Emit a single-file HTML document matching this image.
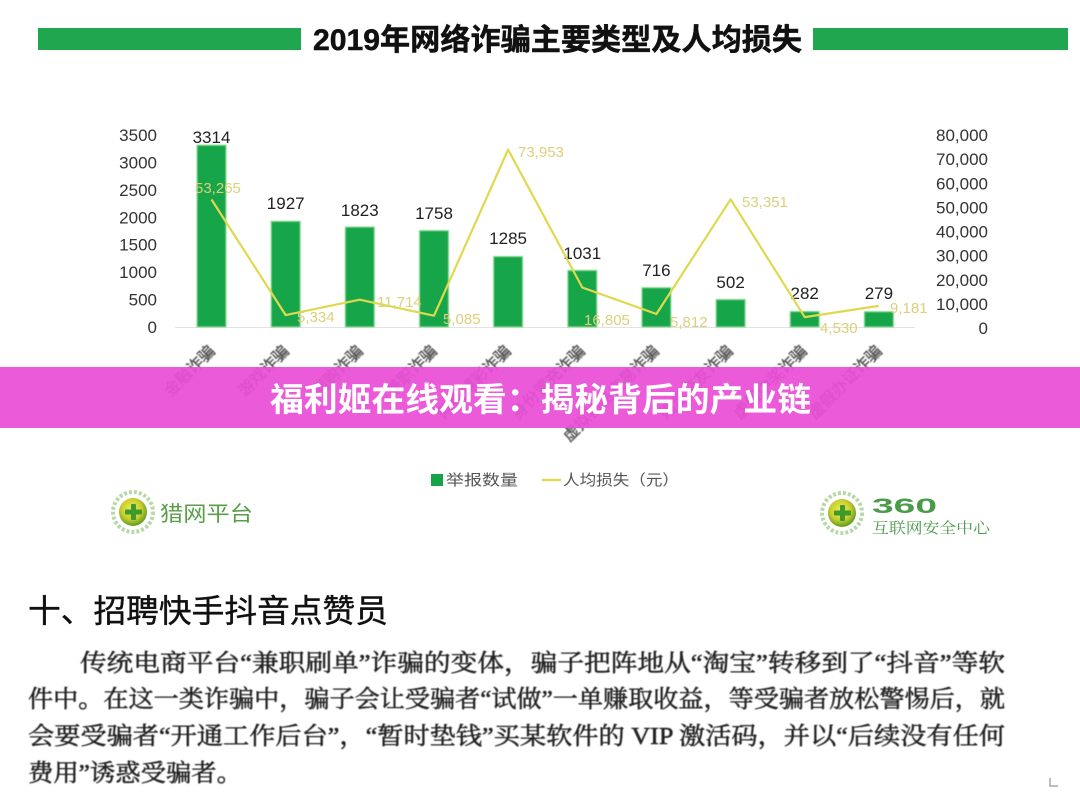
<!DOCTYPE html>
<html><head><meta charset="utf-8">
<style>
html,body{margin:0;padding:0;background:#fff;}
svg{display:block;}
</style></head>
<body>
<svg width="1080" height="795" viewBox="0 0 1080 795" xmlns="http://www.w3.org/2000/svg">
<defs>
<radialGradient id="lg" cx="45%" cy="40%" r="60%">
<stop offset="0" stop-color="#f2ec5a"/><stop offset="0.6" stop-color="#c9cf2e"/><stop offset="1" stop-color="#5f9a22"/>
</radialGradient>
<filter id="bl" x="-5%" y="-5%" width="110%" height="110%"><feGaussianBlur stdDeviation="0.6"/></filter>
</defs>
<rect width="1080" height="795" fill="#fff"/>

<!-- Title -->
<rect x="38" y="28" width="263" height="22" fill="#1fa64f"/>
<rect x="813" y="28" width="255" height="22" fill="#1fa64f"/>
<text x="313" y="50" font-family="Liberation Sans, Noto Sans CJK SC, sans-serif" font-size="30" font-weight="bold" fill="#111" stroke="#111" stroke-width="0.5" textLength="489" lengthAdjust="spacingAndGlyphs">2019年网络诈骗主要类型及人均损失</text>

<!-- baseline -->
<line x1="175" y1="327.5" x2="915" y2="327.5" stroke="#e2e2e2" stroke-width="1"/>

<!-- left axis -->
<g font-family="Liberation Sans, sans-serif" font-size="17" fill="#333" text-anchor="end">
<text x="157" y="333">0</text>
<text x="157" y="305.6">500</text>
<text x="157" y="278.1">1000</text>
<text x="157" y="250.7">1500</text>
<text x="157" y="223.3">2000</text>
<text x="157" y="195.9">2500</text>
<text x="157" y="168.4">3000</text>
<text x="157" y="141">3500</text>
</g>

<!-- right axis -->
<g font-family="Liberation Sans, sans-serif" font-size="17" fill="#333" text-anchor="end">
<text x="988" y="334">0</text>
<text x="988" y="309.9">10,000</text>
<text x="988" y="285.8">20,000</text>
<text x="988" y="261.6">30,000</text>
<text x="988" y="237.5">40,000</text>
<text x="988" y="213.4">50,000</text>
<text x="988" y="189.3">60,000</text>
<text x="988" y="165.1">70,000</text>
<text x="988" y="141">80,000</text>
</g>

<!-- bars -->
<g fill="#14a54a" stroke="#7fdc8f" stroke-width="1" filter="url(#bl)">
<rect x="197" y="145.2" width="29" height="181.8"/>
<rect x="271.2" y="221.3" width="29" height="105.7"/>
<rect x="345.3" y="227" width="29" height="100"/>
<rect x="419.5" y="230.6" width="29" height="96.4"/>
<rect x="493.6" y="256.5" width="29" height="70.5"/>
<rect x="567.8" y="270.4" width="29" height="56.6"/>
<rect x="641.9" y="287.7" width="29" height="39.3"/>
<rect x="716.1" y="299.5" width="29" height="27.5"/>
<rect x="790.2" y="311.5" width="29" height="15.5"/>
<rect x="864.4" y="311.7" width="29" height="15.3"/>
</g>

<!-- bar labels -->
<g font-family="Liberation Sans, sans-serif" font-size="17" fill="#222" text-anchor="middle">
<text x="211.5" y="143">3314</text>
<text x="285.7" y="209">1927</text>
<text x="359.8" y="216">1823</text>
<text x="434" y="219">1758</text>
<text x="508.1" y="244">1285</text>
<text x="582.3" y="259">1031</text>
<text x="656.4" y="276">716</text>
<text x="730.6" y="288">502</text>
<text x="804.7" y="299">282</text>
<text x="878.9" y="299">279</text>
</g>

<!-- line -->
<polyline fill="none" stroke="#e0d84e" stroke-width="2.2" stroke-linejoin="round"
points="211.5,199.5 285.7,315.1 359.8,299.7 434,315.7 508.1,149.6 582.3,287.5 656.4,314 730.6,199.3 804.7,317.1 878.9,305.9"/>

<!-- line labels -->
<g font-family="Liberation Sans, sans-serif" font-size="15" fill="#ddcf7a">
<text x="195" y="193">53,265</text>
<text x="297" y="322">5,334</text>
<text x="377" y="307">11,714</text>
<text x="443" y="324">5,085</text>
<text x="518" y="157">73,953</text>
<text x="584" y="325">16,805</text>
<text x="670" y="327">5,812</text>
<text x="742" y="207">53,351</text>
<text x="820" y="333">4,530</text>
<text x="890" y="313">9,181</text>
</g>

<!-- category labels -->
<g font-family="Liberation Sans, Noto Sans CJK SC, sans-serif" font-size="16" fill="#555" stroke="#555" stroke-width="0.4" text-anchor="end" filter="url(#bl)">
<text transform="translate(216,352) rotate(-45)">金融诈骗</text>
<text transform="translate(290,352) rotate(-45)">游戏诈骗</text>
<text transform="translate(364,352) rotate(-45)">网购诈骗</text>
<text transform="translate(438,352) rotate(-45)">兼职诈骗</text>
<text transform="translate(512,352) rotate(-45)">网络博彩诈骗</text>
<text transform="translate(586,352) rotate(-45)">身份冒充诈骗</text>
<text transform="translate(660,352) rotate(-45)">虚拟物品交易诈骗</text>
<text transform="translate(734,352) rotate(-45)">婚恋交友诈骗</text>
<text transform="translate(808,352) rotate(-45)">虚假中奖诈骗</text>
<text transform="translate(883,352) rotate(-45)">虚假办证诈骗</text>
</g>

<!-- banner -->
<rect x="0" y="367" width="1080" height="61" fill="#e94fd6" fill-opacity="0.93"/>
<text x="270" y="411" font-family="Liberation Sans, Noto Sans CJK SC, sans-serif" font-size="33" font-weight="bold" fill="#fff" textLength="541" lengthAdjust="spacingAndGlyphs">福利姬在线观看：揭秘背后的产业链</text>

<!-- legend -->
<rect x="431" y="474" width="12" height="12" fill="#14a54a"/>
<text x="446" y="485" font-family="Liberation Sans, Noto Sans CJK SC, sans-serif" font-size="15" fill="#555" textLength="72" lengthAdjust="spacingAndGlyphs">举报数量</text>
<line x1="542" y1="480" x2="561" y2="480" stroke="#e2da55" stroke-width="2.5"/>
<text x="563" y="485" font-family="Liberation Sans, Noto Sans CJK SC, sans-serif" font-size="15" fill="#555" textLength="116" lengthAdjust="spacingAndGlyphs">人均损失（元）</text>

<!-- left logo -->
<g>
<circle cx="133" cy="512" r="20" fill="none" stroke="#b6d9a8" stroke-width="4" stroke-dasharray="3 2"/>
<circle cx="133" cy="512" r="14" fill="url(#lg)"/>
<rect x="131" y="504" width="5" height="16" fill="#3f9a2c" rx="1"/>
<rect x="125" y="509.5" width="17" height="5" fill="#3f9a2c" rx="1"/>
<text x="160" y="521" font-family="Liberation Sans, Noto Sans CJK SC, sans-serif" font-size="21" fill="#5a9e4a" textLength="93" lengthAdjust="spacingAndGlyphs">猎网平台</text>
</g>

<!-- right logo -->
<g>
<circle cx="842" cy="513" r="20" fill="none" stroke="#b6d9a8" stroke-width="4" stroke-dasharray="3 2"/>
<circle cx="842" cy="513" r="14" fill="url(#lg)"/>
<rect x="840" y="505" width="5" height="16" fill="#3f9a2c" rx="1"/>
<rect x="834" y="510.5" width="17" height="5" fill="#3f9a2c" rx="1"/>
<text x="872" y="513" font-family="Liberation Sans, sans-serif" font-size="21" font-weight="bold" fill="#4a9a4a" textLength="65" lengthAdjust="spacingAndGlyphs">360</text>
<text x="872" y="533" font-family="Liberation Serif, Noto Serif CJK SC, serif" font-size="15" fill="#4a9a4a" textLength="118" lengthAdjust="spacingAndGlyphs">互联网安全中心</text>
</g>

<!-- heading -->
<text x="28" y="622" font-family="Liberation Sans, Noto Sans CJK SC, sans-serif" font-size="32" fill="#111" stroke="#111" stroke-width="0.4" textLength="360" lengthAdjust="spacingAndGlyphs">十、招聘快手抖音点赞员</text>

<!-- paragraph -->
<g font-family="Liberation Serif, Noto Serif CJK SC, serif" font-size="24" fill="#222" stroke="#222" stroke-width="0.5" filter="url(#bl)">
<text x="80" y="671" textLength="925" lengthAdjust="spacingAndGlyphs">传统电商平台“兼职刷单”诈骗的变体，骗子把阵地从“淘宝”转移到了“抖音”等软</text>
<text x="28" y="707" textLength="977" lengthAdjust="spacingAndGlyphs">件中。在这一类诈骗中，骗子会让受骗者“试做”一单赚取收益，等受骗者放松警惕后，就</text>
<text x="28" y="744" textLength="977" lengthAdjust="spacingAndGlyphs">会要受骗者“开通工作后台”，“暂时垫钱”买某软件的 VIP 激活码，并以“后续没有任何</text>
<text x="28" y="781" textLength="214" lengthAdjust="spacingAndGlyphs">费用”诱惑受骗者。</text>
</g>

<!-- corner mark -->
<path d="M1050 778 v8 h8" fill="none" stroke="#aaa" stroke-width="1.5"/>
</svg>
</body></html>
